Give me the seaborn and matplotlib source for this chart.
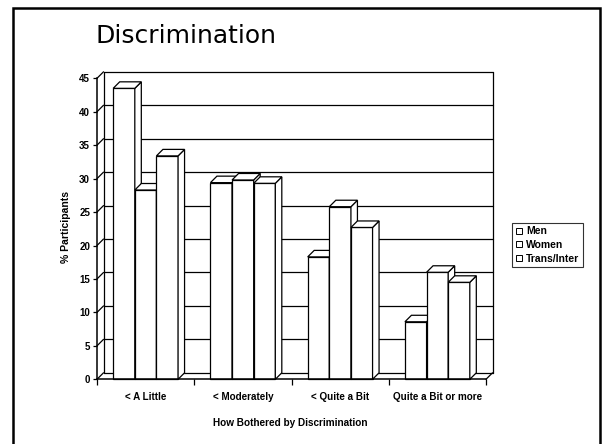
import numpy as np
import pandas as pd
import matplotlib
matplotlib.use("Agg")
import matplotlib.pyplot as plt
import matplotlib.patches as mpatches
from matplotlib.lines import Line2D
import seaborn as sns

# Survey results: share of participants by how much discrimination bothers them
categories = ["< A Little", "< Moderately", "< Quite a Bit", "Quite a Bit or more"]
groups = ["Men", "Women", "Trans/Inter"]
men = [43.5, 29.4, 18.3, 8.6]
women = [28.3, 29.8, 25.8, 16.0]
trans_inter = [33.4, 29.3, 22.7, 14.5]
y_ticks = list(range(0, 50, 5))

df = pd.DataFrame({
    "category": categories * 3,
    "group": [g for g in groups for _ in categories],
    "value": men + women + trans_inter,
})

sns.set_style("white")
plt.rcParams["font.family"] = ["Liberation Sans", "DejaVu Sans"]
for key in ["text.color", "axes.labelcolor", "xtick.color", "ytick.color"]:
    plt.rcParams[key] = "black"

W, H = 602, 444
fig = plt.figure(figsize=(W / 100, H / 100), dpi=100)
ax = fig.add_axes([97 / W, (H - 379.3) / H, (486 - 97) / W, (379.3 - 78.3) / H])

sns.barplot(data=df, x="category", y="value", hue="group", order=categories,
            hue_order=groups, palette=["white"] * 3, width=0.667, gap=0,
            edgecolor="black", linewidth=0.9, legend=False, ax=ax, saturation=1)

ax.set_xlim(-0.5, len(categories) - 0.5)
ax.set_ylim(0, 45)

# depth of the 3-D effect, in pixels, converted into data units
DEPTH = 6.5
x0d, y0d = ax.transData.inverted().transform(ax.transData.transform((0, 0)))
x1d, y1d = ax.transData.inverted().transform(ax.transData.transform((0, 0)) + DEPTH)
dx, dy = x1d - x0d, y1d - y0d

xl, xr = ax.get_xlim()
line_kw = dict(color="black", lw=0.9, clip_on=False)

# back wall gridlines and side-wall diagonals
for v in y_ticks:
    ax.add_line(Line2D([xl + dx, xr + dx], [v + dy, v + dy], zorder=1, **line_kw))
    ax.add_line(Line2D([xl, xl + dx], [v, v + dy], zorder=1, **line_kw))
ax.add_line(Line2D([xl + dx, xl + dx], [dy, 45 + dy], zorder=1, **line_kw))
ax.add_line(Line2D([xr + dx, xr + dx], [dy, 45 + dy], zorder=1, **line_kw))
ax.add_line(Line2D([xr, xr + dx], [0, dy], zorder=1, **line_kw))

# give the bars their top and side faces, later bars drawn over earlier ones
bars = sorted(ax.patches, key=lambda p: p.get_x())
for i, p in enumerate(bars):
    bx0 = p.get_x()
    bx1 = bx0 + p.get_width()
    h = p.get_height()
    z = 3 + i * 0.1
    p.set_zorder(z)
    p.set_clip_on(False)
    side = mpatches.Polygon([(bx1, 0), (bx1, h), (bx1 + dx, h + dy), (bx1 + dx, dy)],
                            closed=True, facecolor="white", edgecolor="black",
                            lw=0.9, zorder=z + 0.01, clip_on=False)
    top = mpatches.Polygon([(bx0, h), (bx1, h), (bx1 + dx, h + dy), (bx0 + dx, h + dy)],
                           closed=True, facecolor="white", edgecolor="black",
                           lw=0.9, zorder=z + 0.02, clip_on=False)
    ax.add_patch(side)
    ax.add_patch(top)

# axes: front spines, ticks and labels
for s in ["top", "right"]:
    ax.spines[s].set_visible(False)
for s in ["left", "bottom"]:
    ax.spines[s].set_color("black")
    ax.spines[s].set_linewidth(1.1)
    ax.spines[s].set_zorder(10)

ax.set_yticks(y_ticks)
ax.set_yticklabels([str(t) for t in y_ticks], fontsize=7, fontweight="bold")
ax.tick_params(axis="y", direction="out", length=3, width=0.9, pad=2, left=True,
               color="black")
ax.set_xticks(range(len(categories)))
ax.set_xticklabels(categories, fontsize=7.1, fontweight="bold")
ax.set_xticks(np.arange(-0.5, len(categories), 1.0), minor=True)
ax.tick_params(axis="x", which="major", length=0, pad=9)
ax.tick_params(axis="x", which="minor", direction="out", length=4, width=0.9,
               bottom=True, color="black")
ax.set_xlabel("")
ax.set_ylabel("")
ax.grid(False)

fig.text(66 / W, 1 - 227 / H, "% Participants", rotation=90, ha="center",
         va="center", fontsize=7.5, fontweight="bold")
fig.text(290 / W, 1 - 423 / H, "How Bothered by Discrimination", ha="center",
         va="center", fontsize=7.2, fontweight="bold")
fig.text(96 / W, 1 - 42.7 / H, "Discrimination", ha="left", va="baseline",
         fontsize=18, family="DejaVu Sans", color="black")

# legend
handles = [Line2D([], [], marker="s", linestyle="none", markerfacecolor="white",
                  markeredgecolor="black", markersize=4.5, markeredgewidth=0.7)
           for _ in groups]
leg = fig.legend(handles, groups, loc="upper left",
                 bbox_to_anchor=(511.7 / W, 1 - 223.3 / H),
                 prop={"size": 7.5, "weight": "bold"}, frameon=True,
                 fancybox=False, borderpad=0.3, handlelength=0.8,
                 handletextpad=0.3, labelspacing=0.35, borderaxespad=0)
leg.get_frame().set_edgecolor("black")
leg.get_frame().set_linewidth(0.8)

# slide frame around the whole chart
fig.add_artist(mpatches.Rectangle((12.5 / W, -0.02), (600 - 12.5) / W,
                                  (H - 8) / H + 0.02, transform=fig.transFigure,
                                  fill=False, edgecolor="black", lw=1.8))

fig.savefig("out.png", dpi=100)
